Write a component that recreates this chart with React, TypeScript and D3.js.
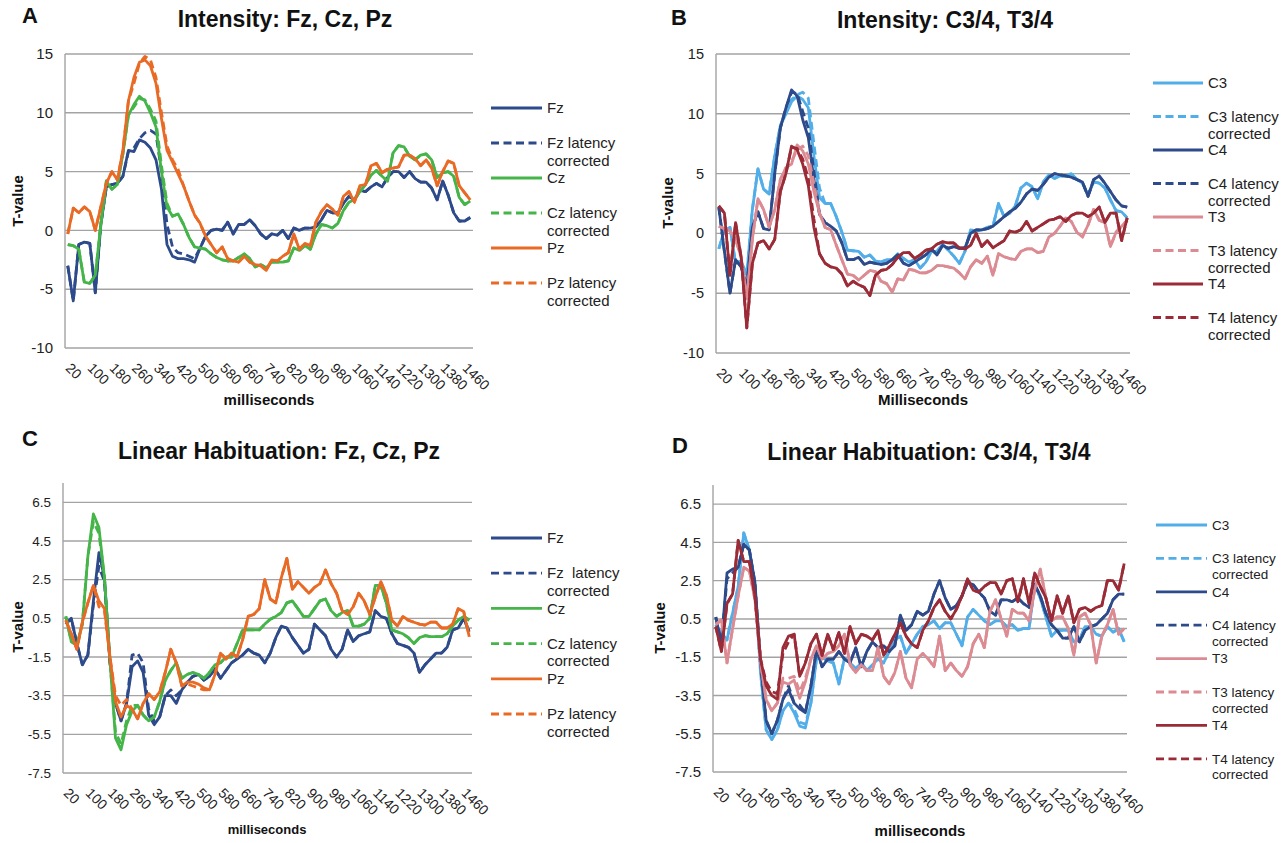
import * as d3 from "d3";

// Categories (ms) of the four panels and the labelled ticks
const MS = [
  20, 40, 60, 80, 100, 120, 140, 160, 180, 200, 220, 240, 260, 280, 300, 320, 340, 360, 380, 400,
  420, 440, 460, 480, 500, 520, 540, 560, 580, 600, 620, 640, 660, 680, 700, 720, 740, 760, 780, 800,
  820, 840, 860, 880, 900, 920, 940, 960, 980, 1000, 1020, 1040, 1060, 1080, 1100, 1120, 1140, 1160,
  1180, 1200, 1220, 1240, 1260, 1280, 1300, 1320, 1340, 1360, 1380, 1400, 1420, 1440, 1460, 1480,
];
const MS_TICKS = [20, 100, 180, 260, 340, 420, 500, 580, 660, 740, 820, 900, 980, 1060, 1140, 1220, 1300, 1380, 1460];
const Y_TICKS_INTENSITY = [-10, -5, 0, 5, 10, 15];
const Y_TICKS_HABITUATION = [-7.5, -5.5, -3.5, -1.5, 0.5, 2.5, 4.5, 6.5];

// A - Intensity: Fz, Cz, Pz
const A_FZ = [-3.0, -6.0, -1.2, -1.0, -1.1, -5.3, 0.5, 3.7, 3.9, 4.0, 4.6, 6.8, 6.7, 7.7, 7.5, 7.0, 6.0, 3.5, -1.2, -2.2, -2.4, -2.4, -2.5, -2.7, -1.5, -0.5, 0.0, 0.1, 0.0, 0.7, -0.3, 0.5, 0.5, 0.9, 0.4, -0.3, -0.7, -0.3, -0.4, 0.0, -0.7, 0.2, 0.0, 0.2, 0.2, 0.3, 0.9, 1.7, 1.5, 1.5, 2.3, 2.9, 2.6, 3.4, 3.3, 3.7, 4.0, 3.7, 4.5, 5.0, 5.0, 4.5, 5.0, 4.4, 4.1, 4.1, 3.6, 2.6, 4.2, 3.0, 1.5, 0.8, 0.8, 1.1];
const A_FZ_LC = [-3.0, -6.0, -1.2, -1.0, -1.1, -5.3, 0.5, 3.7, 3.9, 4.0, 4.6, 6.7, 7.0, 7.8, 8.3, 8.5, 8.2, 5.0, 0.5, -1.4, -1.9, -2.0, -2.2, -2.4, -1.5, -0.5, 0.0, 0.1, 0.0, 0.7, -0.3, 0.5, 0.5, 0.9, 0.4, -0.3, -0.7, -0.3, -0.4, 0.0, -0.7, 0.2, 0.0, 0.2, 0.2, 0.3, 0.9, 1.7, 1.5, 1.5, 2.3, 2.9, 2.6, 3.4, 3.3, 3.7, 4.0, 3.7, 4.5, 5.0, 5.0, 4.5, 5.0, 4.4, 4.1, 4.1, 3.6, 2.6, 4.2, 3.0, 1.5, 0.8, 0.8, 1.1];
const A_CZ = [-1.2, -1.3, -1.6, -4.4, -4.5, -3.8, 0.5, 4.2, 3.5, 3.9, 6.5, 9.8, 10.7, 11.4, 11.0, 10.0, 8.8, 5.0, 2.0, 1.2, 1.4, 0.5, -0.6, -1.4, -1.5, -1.6, -2.0, -2.3, -2.5, -2.6, -2.6, -2.3, -2.0, -2.4, -3.1, -2.9, -3.2, -2.7, -2.7, -2.7, -2.6, -1.5, -1.7, -1.3, -1.6, -0.3, 0.5, 0.4, 0.2, 0.6, 1.7, 2.4, 2.6, 3.3, 3.9, 4.7, 5.1, 4.6, 4.2, 6.6, 7.2, 7.1, 6.3, 6.0, 6.4, 6.5, 6.0, 4.5, 4.9, 5.0, 4.6, 2.8, 2.2, 2.5];
const A_CZ_LC = [-1.2, -1.3, -1.6, -4.4, -4.5, -3.8, 0.5, 4.2, 3.5, 3.9, 6.5, 9.8, 10.5, 11.2, 11.1, 10.3, 9.3, 5.5, 2.3, 1.2, 1.4, 0.5, -0.6, -1.4, -1.5, -1.6, -2.0, -2.3, -2.5, -2.6, -2.6, -2.3, -2.0, -2.4, -3.1, -2.9, -3.2, -2.7, -2.7, -2.7, -2.6, -1.5, -1.7, -1.3, -1.6, -0.3, 0.5, 0.4, 0.2, 0.6, 1.7, 2.4, 2.6, 3.3, 3.9, 4.7, 5.1, 4.6, 4.2, 6.6, 7.2, 7.1, 6.3, 6.0, 6.4, 6.5, 6.0, 4.5, 4.9, 5.0, 4.6, 2.8, 2.2, 2.5];
const A_PZ = [-0.3, 1.9, 1.5, 2.0, 1.6, 0.0, 2.0, 4.0, 5.0, 4.3, 6.8, 11.0, 13.0, 14.3, 14.5, 14.0, 12.5, 9.5, 6.8, 5.8, 4.8, 3.8, 2.5, 1.3, 0.6, -0.5, -1.2, -1.9, -1.4, -2.4, -2.6, -2.7, -2.2, -2.7, -2.9, -3.0, -3.4, -2.5, -2.6, -2.2, -1.9, -0.3, -1.6, -1.1, -1.3, 0.7, 1.6, 2.2, 1.8, 1.3, 2.9, 3.3, 2.4, 3.8, 3.9, 5.5, 5.7, 4.9, 5.2, 5.3, 5.4, 6.4, 6.4, 6.1, 5.5, 6.0, 5.3, 3.8, 5.0, 5.9, 5.7, 3.8, 3.2, 2.6];
const A_PZ_LC = [-0.3, 1.9, 1.5, 2.0, 1.6, 0.0, 2.0, 4.0, 5.0, 4.3, 6.8, 11.0, 12.5, 14.2, 14.8, 14.5, 13.0, 10.0, 7.2, 6.0, 5.2, 3.8, 2.5, 1.3, 0.6, -0.5, -1.2, -1.9, -1.4, -2.4, -2.6, -2.7, -2.2, -2.7, -2.9, -3.0, -3.4, -2.5, -2.6, -2.2, -1.9, -0.3, -1.6, -1.1, -1.3, 0.7, 1.6, 2.2, 1.8, 1.3, 2.9, 3.3, 2.4, 3.8, 3.9, 5.5, 5.7, 4.9, 5.2, 5.3, 5.4, 6.4, 6.4, 6.1, 5.5, 6.0, 5.3, 3.8, 5.0, 5.9, 5.7, 3.8, 3.2, 2.6];

// B - Intensity: C3/4, T3/4
const B_C3 = [-1.3, 0.3, 0.5, -2.5, -2.3, -3.5, 2.0, 5.4, 3.7, 3.3, 6.5, 9.0, 10.0, 11.0, 11.5, 11.2, 10.5, 6.5, 3.0, 2.5, 2.5, 1.4, 0.1, -1.4, -1.45, -1.5, -2.0, -1.8, -2.3, -2.4, -2.2, -2.2, -1.7, -2.1, -2.4, -2.2, -2.9, -2.4, -1.5, -1.5, -0.9, -1.4, -1.9, -2.5, -1.5, 0.3, 0.2, 0.3, 0.5, 0.6, 2.5, 1.4, 1.7, 2.3, 3.8, 4.2, 3.9, 2.9, 4.3, 4.9, 4.6, 4.8, 4.8, 5.0, 4.5, 4.2, 3.2, 4.3, 4.2, 3.8, 2.8, 1.9, 1.8, 1.3];
const B_C3_LC = [-1.3, 0.3, 0.5, -2.5, -2.3, -3.5, 2.0, 5.4, 3.7, 3.3, 6.5, 9.0, 10.3, 11.2, 11.6, 11.8, 11.3, 7.5, 3.8, 2.5, 2.5, 1.4, 0.1, -1.4, -1.45, -1.5, -2.0, -1.8, -2.3, -2.4, -2.2, -2.2, -1.7, -2.1, -2.4, -2.2, -2.9, -2.4, -1.5, -1.5, -0.9, -1.4, -1.9, -2.5, -1.5, 0.3, 0.2, 0.3, 0.5, 0.6, 2.5, 1.4, 1.7, 2.3, 3.8, 4.2, 3.9, 2.9, 4.3, 4.9, 4.6, 4.8, 4.8, 5.0, 4.5, 4.2, 3.2, 4.3, 4.2, 3.8, 2.8, 1.9, 1.8, 1.3];
const B_C4 = [2.2, -1.5, -5.0, -2.2, -2.8, -4.5, 0.5, 1.8, 0.4, 0.3, 5.0, 8.8, 10.5, 12.0, 11.5, 9.5, 8.0, 4.5, 1.6, 0.9, 0.6, 0.2, -0.8, -2.2, -2.2, -2.0, -2.6, -2.4, -2.5, -2.6, -2.5, -2.2, -1.8, -2.5, -2.7, -2.4, -2.1, -1.8, -1.3, -1.8, -1.0, -1.25, -1.1, -1.25, -1.2, 0.0, 0.3, 0.3, 0.4, 0.6, 1.0, 1.4, 1.8, 2.1, 2.6, 3.3, 3.7, 3.6, 4.1, 4.7, 5.0, 4.9, 4.8, 4.7, 4.5, 4.3, 3.1, 4.5, 4.8, 4.2, 3.5, 2.8, 2.3, 2.2];
const B_C4_LC = [2.2, -1.5, -5.0, -2.2, -2.8, -4.5, 0.5, 1.8, 0.4, 0.3, 5.0, 8.8, 10.5, 11.8, 11.7, 10.2, 8.8, 5.2, 1.6, 0.9, 0.6, 0.2, -0.8, -2.2, -2.2, -2.0, -2.6, -2.4, -2.5, -2.6, -2.5, -2.2, -1.8, -2.5, -2.7, -2.4, -2.1, -1.8, -1.3, -1.8, -1.0, -1.25, -1.1, -1.25, -1.2, 0.0, 0.3, 0.3, 0.4, 0.6, 1.0, 1.4, 1.8, 2.1, 2.6, 3.3, 3.7, 3.6, 4.1, 4.7, 5.0, 4.9, 4.8, 4.7, 4.5, 4.3, 3.1, 4.5, 4.8, 4.2, 3.5, 2.8, 2.3, 2.2];
const B_T3 = [0.6, 0.4, 0.2, -0.5, -2.0, -5.5, -0.5, 2.9, 2.0, 0.5, 2.0, 4.5, 5.5, 5.8, 7.4, 6.9, 5.8, 3.5, 1.7, 0.5, 0.3, -1.0, -2.2, -3.4, -3.5, -3.9, -3.5, -3.1, -3.2, -4.0, -4.2, -4.9, -3.8, -3.9, -3.0, -3.1, -3.3, -3.3, -3.1, -2.7, -2.7, -2.8, -2.9, -3.3, -3.8, -2.8, -2.2, -2.5, -1.9, -3.5, -1.7, -1.95, -2.1, -2.2, -1.5, -1.3, -1.3, -1.6, -1.5, -0.3, 0.0, 0.6, 1.3, 1.0, 0.1, -0.3, 0.7, 2.0, 1.1, 0.9, -1.1, 0.1, 0.6, 1.1];
const B_T3_LC = [0.6, 0.4, 0.2, -0.5, -2.0, -5.5, -0.5, 2.9, 2.0, 0.5, 2.0, 4.5, 5.5, 6.0, 7.0, 7.3, 6.5, 4.2, 1.7, 0.5, 0.3, -1.0, -2.2, -3.4, -3.5, -3.9, -3.5, -3.1, -3.2, -4.0, -4.2, -4.9, -3.8, -3.9, -3.0, -3.1, -3.3, -3.3, -3.1, -2.7, -2.7, -2.8, -2.9, -3.3, -3.8, -2.8, -2.2, -2.5, -1.9, -3.5, -1.7, -1.95, -2.1, -2.2, -1.5, -1.3, -1.3, -1.6, -1.5, -0.3, 0.0, 0.6, 1.3, 1.0, 0.1, -0.3, 0.7, 2.0, 1.1, 0.9, -1.1, 0.1, 0.6, 1.1];
const B_T4 = [2.3, 1.7, -3.5, 0.9, -2.0, -7.9, -2.5, -0.8, -0.6, -1.3, -0.5, 3.5, 5.0, 7.3, 7.0, 5.8, 4.0, 0.5, -1.7, -2.5, -2.8, -2.9, -3.4, -4.4, -4.0, -4.3, -4.5, -5.2, -3.5, -3.1, -3.0, -2.6, -2.0, -1.6, -1.6, -2.1, -1.8, -1.4, -1.3, -0.9, -0.7, -0.8, -0.8, -1.2, -1.3, -1.0, 0.0, -1.1, -0.6, -1.2, -0.9, -0.6, 0.2, 0.1, 0.3, 1.0, 0.2, 0.5, 0.8, 1.1, 1.2, 1.4, 1.0, 1.5, 1.7, 1.7, 1.4, 1.7, 2.2, 0.9, 1.7, 1.7, -0.6, 1.3];
const B_T4_LC = [2.3, 1.7, -3.5, 0.9, -2.0, -7.9, -2.5, -0.8, -0.6, -1.3, -0.5, 3.5, 5.0, 7.2, 7.1, 6.2, 4.6, 1.2, -1.7, -2.5, -2.8, -2.9, -3.4, -4.4, -4.0, -4.3, -4.5, -5.2, -3.5, -3.1, -3.0, -2.6, -2.0, -1.6, -1.6, -2.1, -1.8, -1.4, -1.3, -0.9, -0.7, -0.8, -0.8, -1.2, -1.3, -1.0, 0.0, -1.1, -0.6, -1.2, -0.9, -0.6, 0.2, 0.1, 0.3, 1.0, 0.2, 0.5, 0.8, 1.1, 1.2, 1.4, 1.0, 1.5, 1.7, 1.7, 1.4, 1.7, 2.2, 0.9, 1.7, 1.7, -0.6, 1.3];

// C - Linear Habituation: Fz, Cz, Pz
const C_FZ = [0.2, 0.5, -0.8, -1.9, -1.4, 1.4, 3.9, 2.6, -1.8, -3.9, -4.8, -3.9, -2.0, -1.7, -2.3, -4.5, -5.0, -4.6, -3.5, -3.5, -3.9, -3.2, -2.8, -2.5, -2.4, -2.7, -2.5, -2.1, -2.6, -2.2, -1.8, -1.6, -1.4, -1.1, -1.3, -1.4, -1.8, -1.3, -0.5, 0.1, 0.0, -0.5, -0.9, -1.3, -1.1, 0.2, -0.1, -0.4, -1.1, -1.5, -1.1, -0.1, -0.7, -0.4, -0.3, -0.2, 0.9, 0.6, 0.5, -0.3, -0.8, -0.9, -1.0, -1.3, -2.3, -1.9, -1.6, -1.3, -1.3, -1.0, -0.1, 0.0, 0.5, -0.2];
const C_FZ_LC = [0.2, 0.5, -0.8, -1.9, -1.4, 1.2, 3.2, 2.4, -1.8, -3.9, -4.8, -3.9, -1.4, -1.3, -1.8, -4.2, -4.8, -4.6, -3.5, -3.2, -3.5, -3.2, -2.8, -2.5, -2.4, -2.7, -2.5, -2.1, -2.6, -2.2, -1.8, -1.6, -1.4, -1.1, -1.3, -1.4, -1.8, -1.3, -0.5, 0.1, 0.0, -0.5, -0.9, -1.3, -1.1, 0.2, -0.1, -0.4, -1.1, -1.5, -1.1, -0.1, -0.7, -0.4, -0.3, -0.2, 0.9, 0.6, 0.5, -0.3, -0.8, -0.9, -1.0, -1.3, -2.3, -1.9, -1.6, -1.3, -1.3, -1.0, -0.1, 0.0, 0.5, -0.2];
const C_CZ = [0.6, -0.7, -0.9, 0.2, 3.7, 5.9, 5.2, 2.6, -1.7, -5.7, -6.3, -5.0, -4.3, -4.0, -4.5, -4.8, -4.6, -3.8, -2.7, -2.2, -1.8, -2.6, -2.4, -2.3, -2.4, -2.6, -2.3, -1.9, -1.8, -1.5, -1.5, -0.8, -0.1, -0.1, -0.1, -0.1, 0.2, 0.45, 0.6, 0.8, 1.3, 1.4, 1.0, 0.6, 0.6, 1.0, 1.4, 1.5, 0.9, 0.6, 0.8, 0.9, 0.1, 0.1, 0.2, 0.5, 2.2, 2.2, 1.3, -0.1, -0.2, -0.3, -0.5, -0.8, -0.5, -0.4, -0.45, -0.45, -0.45, -0.3, 0.1, 0.4, 0.6, 0.4];
const C_CZ_LC = [0.6, -0.7, -0.9, 0.2, 3.7, 5.5, 4.9, 2.6, -1.7, -5.4, -6.0, -4.8, -4.0, -4.0, -4.5, -4.8, -4.6, -3.8, -2.7, -2.2, -1.8, -2.6, -2.4, -2.3, -2.4, -2.6, -2.3, -1.9, -1.8, -1.5, -1.5, -0.8, -0.1, -0.1, -0.1, -0.1, 0.2, 0.45, 0.6, 0.8, 1.3, 1.4, 1.0, 0.6, 0.6, 1.0, 1.4, 1.5, 0.9, 0.6, 0.8, 0.9, 0.1, 0.1, 0.2, 0.5, 2.2, 2.2, 1.3, -0.1, -0.2, -0.3, -0.5, -0.8, -0.5, -0.4, -0.45, -0.45, -0.45, -0.3, 0.1, 0.4, 0.6, 0.4];
const C_PZ = [0.4, -0.3, -1.1, 0.3, 1.3, 2.2, 1.4, 1.0, -1.5, -3.8, -4.6, -4.0, -4.2, -4.7, -3.9, -3.4, -3.7, -3.3, -2.3, -1.1, -1.8, -3.0, -2.8, -2.8, -2.9, -3.1, -3.2, -2.4, -1.3, -1.6, -1.3, -1.5, -0.6, 0.6, 0.7, 1.0, 2.5, 1.5, 1.3, 2.6, 3.6, 2.0, 2.4, 2.1, 1.8, 2.1, 2.3, 3.0, 2.3, 1.8, 0.9, 0.7, 1.1, 1.8, 1.4, 0.7, 1.6, 2.4, 1.7, 0.4, 0.1, 0.6, 0.4, 0.3, 0.2, 0.15, 0.3, 0.3, 0.0, 0.0, 0.2, 1.0, 0.85, -0.45];
const C_PZ_LC = [0.4, -0.3, -1.1, 0.3, 1.3, 2.2, 1.1, 0.9, -1.5, -3.5, -4.0, -3.7, -4.2, -4.7, -3.9, -3.4, -3.7, -3.3, -2.3, -1.1, -1.8, -3.0, -2.9, -3.0, -3.1, -3.2, -3.2, -2.4, -1.3, -1.6, -1.3, -1.5, -0.6, 0.6, 0.7, 1.0, 2.5, 1.5, 1.3, 2.6, 3.6, 2.0, 2.4, 2.1, 1.8, 2.1, 2.3, 3.0, 2.3, 1.8, 0.9, 0.7, 1.1, 1.8, 1.4, 0.7, 1.6, 2.4, 1.7, 0.4, 0.1, 0.6, 0.4, 0.3, 0.2, 0.15, 0.3, 0.3, 0.0, 0.0, 0.2, 1.0, 0.85, -0.45];

// D - Linear Habituation: C3/4, T3/4
const D_C3 = [0.2, -0.25, -0.6, 0.8, 2.2, 5.0, 4.1, 2.2, -2.3, -5.3, -5.8, -5.3, -4.3, -3.9, -4.4, -5.1, -5.2, -3.9, -1.6, -1.5, -1.7, -1.8, -2.9, -1.55, -1.8, -2.1, -1.8, -2.2, -1.9, -1.6, -1.8, -1.2, -0.6, -0.4, -1.3, -0.8, -0.3, 0.1, 0.2, 0.4, 0.0, 0.3, 0.3, -0.3, -0.9, 0.6, 1.0, 0.7, 0.4, 0.2, 0.4, 0.4, 0.1, 0.2, -0.1, 0.0, 0.0, 2.3, 1.6, 0.6, -0.4, -0.1, -0.1, -0.1, -0.7, -0.6, 0.1, 0.1, -0.3, -0.4, 0.1, -0.2, 0.0, -0.7];
const D_C3_LC = [0.2, -0.25, -0.6, 0.8, 2.2, 5.0, 4.1, 2.2, -2.3, -5.3, -5.8, -5.3, -4.3, -3.9, -4.2, -4.9, -5.0, -3.9, -1.6, -1.5, -1.7, -1.8, -2.9, -1.55, -1.8, -2.1, -1.8, -2.2, -1.9, -1.6, -1.8, -1.2, -0.6, -0.4, -1.3, -0.8, -0.3, 0.1, 0.2, 0.4, 0.0, 0.3, 0.3, -0.3, -0.9, 0.6, 1.0, 0.7, 0.4, 0.2, 0.4, 0.4, 0.1, 0.2, -0.1, 0.0, 0.0, 2.3, 1.6, 0.6, -0.4, -0.1, -0.1, -0.1, -0.7, -0.6, 0.1, 0.1, -0.3, -0.4, 0.1, -0.2, 0.0, -0.7];
const D_C4 = [0.6, -0.8, 2.9, 3.1, 3.2, 4.4, 4.1, 2.4, -1.8, -4.8, -5.5, -4.8, -3.7, -3.2, -3.9, -4.2, -4.4, -3.0, -1.1, -2.0, -1.6, -1.6, -1.2, -1.6, -1.8, -1.0, -2.0, -1.2, -0.7, -1.0, -0.9, -1.2, -0.9, 0.7, -0.1, 0.2, 0.9, 0.7, 0.9, 1.8, 2.5, 1.6, 1.0, 1.2, 1.7, 2.4, 2.3, 1.9, 1.6, 0.9, 0.7, 1.5, 1.5, 1.4, 1.6, 1.3, 1.1, 2.3, 1.7, 0.8, 0.2, -0.1, -0.5, -0.5, 0.1, -0.7, -0.1, 0.1, 0.2, 0.5, 0.8, 1.5, 1.8, 1.8];
const D_C4_LC = [0.6, -0.8, 2.6, 2.9, 3.2, 4.4, 4.1, 2.4, -1.8, -4.8, -5.5, -4.8, -3.7, -3.0, -3.9, -4.0, -4.4, -3.0, -1.1, -2.0, -1.6, -1.6, -1.2, -1.6, -1.8, -1.0, -2.0, -1.2, -0.7, -1.0, -0.9, -1.2, -0.9, 0.7, -0.1, 0.2, 0.9, 0.7, 0.9, 1.8, 2.5, 1.6, 1.0, 1.2, 1.7, 2.4, 2.3, 1.9, 1.6, 0.9, 0.7, 1.5, 1.5, 1.4, 1.6, 1.3, 1.1, 2.3, 1.7, 0.8, 0.2, -0.1, -0.5, -0.5, 0.1, -0.7, -0.1, 0.1, 0.2, 0.5, 0.8, 1.5, 1.8, 1.8];
const D_T3 = [0.2, 0.45, -1.8, 0.0, 1.7, 3.2, 3.0, 1.5, -1.8, -3.7, -4.3, -3.9, -2.8, -2.9, -2.7, -3.65, -2.8, -1.6, -0.9, -1.6, -1.3, -1.2, -0.9, -0.3, -1.9, -2.3, -1.9, -2.2, -2.2, -1.0, -2.5, -2.9, -2.3, -1.2, -2.6, -3.1, -1.6, -1.3, -1.6, -2.0, -0.4, -2.2, -1.8, -2.2, -2.5, -2.0, -0.8, -0.3, -1.0, 0.9, 1.5, 0.5, -0.4, 1.0, 0.8, 0.8, 0.4, 2.0, 3.1, 1.6, 0.4, 0.6, 0.6, 0.0, -1.4, 0.6, 0.8, 0.2, -1.8, -0.4, 0.2, 1.0, -0.3, 0.0];
const D_T3_LC = [0.2, 0.45, -1.8, 0.0, 1.7, 3.2, 3.0, 1.5, -1.8, -3.7, -4.3, -3.9, -2.6, -2.6, -2.5, -3.3, -2.6, -1.6, -0.9, -1.6, -1.3, -1.2, -0.9, -0.3, -1.9, -2.3, -1.9, -2.2, -2.2, -1.0, -2.5, -2.9, -2.3, -1.2, -2.6, -3.1, -1.6, -1.3, -1.6, -2.0, -0.4, -2.2, -1.8, -2.2, -2.5, -2.0, -0.8, -0.3, -1.0, 0.9, 1.5, 0.5, -0.4, 1.0, 0.8, 0.8, 0.4, 2.0, 3.1, 1.6, 0.4, 0.6, 0.6, 0.0, -1.4, 0.6, 0.8, 0.2, -1.8, -0.4, 0.2, 1.0, -0.3, 0.0];
const D_T4 = [0.1, -1.2, 1.3, 1.8, 4.6, 3.5, 3.5, 1.7, -1.6, -3.0, -3.5, -3.7, -1.0, -0.4, -0.3, -2.5, -1.8, -0.8, -0.3, -1.4, -0.3, -1.1, -0.2, -1.3, 0.1, -0.8, -0.3, -0.4, -0.6, -0.1, -1.4, -0.9, -0.3, 0.3, -0.4, -0.8, -1.0, -0.1, 0.4, 1.1, 1.5, 0.9, 0.5, 1.0, 1.7, 2.6, 2.0, 1.9, 2.2, 2.4, 2.4, 1.8, 2.5, 2.6, 1.4, 2.6, 1.3, 2.9, 2.2, 1.6, 0.4, 1.7, 0.8, 1.7, 0.3, 1.0, 1.1, 0.9, 1.1, 1.2, 2.5, 2.5, 2.0, 3.4];
const D_T4_LC = [0.1, -1.2, 1.3, 1.8, 4.6, 3.5, 3.5, 1.7, -1.6, -2.8, -3.3, -3.4, -1.3, -0.7, -0.3, -2.5, -1.8, -0.8, -0.3, -1.4, -0.3, -1.1, -0.2, -1.3, 0.1, -0.8, -0.3, -0.4, -0.6, -0.1, -1.4, -0.9, -0.3, 0.3, -0.4, -0.8, -1.0, -0.1, 0.4, 1.1, 1.5, 0.9, 0.5, 1.0, 1.7, 2.6, 2.0, 1.9, 2.2, 2.4, 2.4, 1.8, 2.5, 2.6, 1.4, 2.6, 1.3, 2.9, 2.2, 1.6, 0.4, 1.7, 0.8, 1.7, 0.3, 1.0, 1.1, 0.9, 1.1, 1.2, 2.5, 2.5, 2.0, 3.4];

const NAVY = "#2d4a8a";
const GREEN = "#45b549";
const ORANGE = "#e96a25";
const LIGHT_BLUE = "#52aee8";
const PINK = "#dc8b93";
const DARK_RED = "#9b2b36";
const GRID = "#a3a3a3";
const FONT = "'Liberation Sans', Arial, Helvetica, sans-serif";

type Series = { label: string[]; values: number[]; color: string; dashed?: boolean };

type Panel = {
  letter: string;
  letterX: number;
  letterY: number;
  title: string;
  titleX: number;
  titleY: number;
  xTitle: string;
  xTitleX: number;
  xTitleY: number;
  xTitleSize: number;
  yTitleX: number;
  yTitleY: number;
  left: number;
  right: number;
  top: number;
  bottom: number;
  yDomain: [number, number];
  yTicks: number[];
  yTickSize: number;
  zeroLine: boolean;
  series: Series[];
  legend: { x1: number; x2: number; tx: number; y0: number; step: number; size: number };
};

const PANELS: Panel[] = [
  {
    letter: "A", letterX: 22, letterY: 23,
    title: "Intensity: Fz, Cz, Pz", titleX: 285, titleY: 27,
    xTitle: "milliseconds", xTitleX: 269, xTitleY: 405, xTitleSize: 15,
    yTitleX: 23, yTitleY: 201,
    left: 65, right: 473, top: 54, bottom: 348,
    yDomain: [-10, 15], yTicks: Y_TICKS_INTENSITY, yTickSize: 15, zeroLine: false,
    series: [
      { label: ["Fz"], values: A_FZ, color: NAVY },
      { label: ["Fz latency", "corrected"], values: A_FZ_LC, color: NAVY, dashed: true },
      { label: ["Cz"], values: A_CZ, color: GREEN },
      { label: ["Cz latency", "corrected"], values: A_CZ_LC, color: GREEN, dashed: true },
      { label: ["Pz"], values: A_PZ, color: ORANGE },
      { label: ["Pz latency", "corrected"], values: A_PZ_LC, color: ORANGE, dashed: true },
    ],
    legend: { x1: 491, x2: 542, tx: 547, y0: 108, step: 35, size: 15 },
  },
  {
    letter: "B", letterX: 671, letterY: 25,
    title: "Intensity: C3/4, T3/4", titleX: 945, titleY: 28,
    xTitle: "Milliseconds", xTitleX: 923, xTitleY: 405, xTitleSize: 15,
    yTitleX: 673, yTitleY: 203,
    left: 716, right: 1130, top: 54, bottom: 353,
    yDomain: [-10, 15], yTicks: Y_TICKS_INTENSITY, yTickSize: 14.5, zeroLine: false,
    series: [
      { label: ["C3"], values: B_C3, color: LIGHT_BLUE },
      { label: ["C3 latency", "corrected"], values: B_C3_LC, color: LIGHT_BLUE, dashed: true },
      { label: ["C4"], values: B_C4, color: NAVY },
      { label: ["C4 latency", "corrected"], values: B_C4_LC, color: NAVY, dashed: true },
      { label: ["T3"], values: B_T3, color: PINK },
      { label: ["T3 latency", "corrected"], values: B_T3_LC, color: PINK, dashed: true },
      { label: ["T4"], values: B_T4, color: DARK_RED },
      { label: ["T4 latency", "corrected"], values: B_T4_LC, color: DARK_RED, dashed: true },
    ],
    legend: { x1: 1153, x2: 1203, tx: 1208, y0: 83, step: 33.5, size: 15 },
  },
  {
    letter: "C", letterX: 22, letterY: 446,
    title: "Linear Habituation: Fz, Cz, Pz", titleX: 279, titleY: 459,
    xTitle: "milliseconds", xTitleX: 267, xTitleY: 834, xTitleSize: 13,
    yTitleX: 23, yTitleY: 627,
    left: 63, right: 472, top: 483, bottom: 773,
    yDomain: [-7.5, 7.5], yTicks: Y_TICKS_HABITUATION, yTickSize: 13.5, zeroLine: true,
    series: [
      { label: ["Fz"], values: C_FZ, color: NAVY },
      { label: ["Fz  latency", "corrected"], values: C_FZ_LC, color: NAVY, dashed: true },
      { label: ["Cz"], values: C_CZ, color: GREEN },
      { label: ["Cz latency", "corrected"], values: C_CZ_LC, color: GREEN, dashed: true },
      { label: ["Pz"], values: C_PZ, color: ORANGE },
      { label: ["Pz latency", "corrected"], values: C_PZ_LC, color: ORANGE, dashed: true },
    ],
    legend: { x1: 491, x2: 542, tx: 547, y0: 538, step: 35.2, size: 15 },
  },
  {
    letter: "D", letterX: 672, letterY: 453,
    title: "Linear Habituation: C3/4, T3/4", titleX: 929, titleY: 460,
    xTitle: "milliseconds", xTitleX: 920, xTitleY: 836, xTitleSize: 15,
    yTitleX: 665, yTitleY: 628,
    left: 713, right: 1127, top: 485, bottom: 772,
    yDomain: [-7.5, 7.5], yTicks: Y_TICKS_HABITUATION, yTickSize: 15, zeroLine: true,
    series: [
      { label: ["C3"], values: D_C3, color: LIGHT_BLUE },
      { label: ["C3 latency", "corrected"], values: D_C3_LC, color: LIGHT_BLUE, dashed: true },
      { label: ["C4"], values: D_C4, color: NAVY },
      { label: ["C4 latency", "corrected"], values: D_C4_LC, color: NAVY, dashed: true },
      { label: ["T3"], values: D_T3, color: PINK },
      { label: ["T3 latency", "corrected"], values: D_T3_LC, color: PINK, dashed: true },
      { label: ["T4"], values: D_T4, color: DARK_RED },
      { label: ["T4 latency", "corrected"], values: D_T4_LC, color: DARK_RED, dashed: true },
    ],
    legend: { x1: 1156, x2: 1207, tx: 1212, y0: 525, step: 33.4, size: 13.5 },
  },
];

const LINE_W = 2.8;
const DASH = "8,4.5";

function ChartPanel({ p }: { p: Panel }) {
  const x = d3.scaleBand<number>().domain(MS).range([p.left, p.right]).padding(0);
  const y = d3.scaleLinear().domain(p.yDomain).range([p.bottom, p.top]);
  const cx = (ms: number) => (x(ms) ?? 0) + x.bandwidth() / 2;
  const line = d3
    .line<number>()
    .x((_, i) => cx(MS[i]))
    .y((v) => y(v));

  return (
    <g fontFamily={FONT}>
      <text x={p.letterX} y={p.letterY} fontSize={22} fontWeight="bold" fill="#111">
        {p.letter}
      </text>
      <text x={p.titleX} y={p.titleY} fontSize={23} fontWeight="bold" textAnchor="middle" fill="#111">
        {p.title}
      </text>

      {/* gridlines */}
      {p.yTicks.map((t) => (
        <line key={t} x1={p.left} x2={p.right} y1={y(t)} y2={y(t)} stroke={GRID} strokeWidth={1.4} />
      ))}
      {p.zeroLine && (
        <line x1={p.left} x2={p.right} y1={y(0)} y2={y(0)} stroke={GRID} strokeWidth={1.4} />
      )}
      <line x1={p.left} x2={p.left} y1={y(p.yDomain[1])} y2={y(p.yDomain[0])} stroke={GRID} strokeWidth={1.4} />

      {/* y tick labels */}
      {p.yTicks.map((t) => (
        <text key={t} x={p.left - 12} y={y(t)} dy="0.35em" textAnchor="end" fontSize={p.yTickSize} fill="#222">
          {t}
        </text>
      ))}

      {/* x tick labels */}
      {MS_TICKS.map((ms) => (
        <text
          key={ms}
          transform={`translate(${cx(ms) - 3},${p.bottom + 21}) rotate(45)`}
          fontSize={14}
          fill="#222"
        >
          {ms}
        </text>
      ))}

      <text x={p.xTitleX} y={p.xTitleY} fontSize={p.xTitleSize} fontWeight="bold" textAnchor="middle" fill="#111">
        {p.xTitle}
      </text>
      <text
        transform={`translate(${p.yTitleX},${p.yTitleY}) rotate(-90)`}
        fontSize={15}
        fontWeight="bold"
        textAnchor="middle"
        fill="#111"
      >
        T-value
      </text>

      {/* series */}
      {p.series.map((s, i) => (
        <path
          key={i}
          d={line(s.values) ?? ""}
          fill="none"
          stroke={s.color}
          strokeWidth={LINE_W}
          strokeDasharray={s.dashed ? DASH : undefined}
          strokeLinejoin="round"
        />
      ))}

      {/* legend */}
      {p.series.map((s, i) => {
        const yy = p.legend.y0 + i * p.legend.step;
        return (
          <g key={i}>
            <line
              x1={p.legend.x1}
              x2={p.legend.x2}
              y1={yy}
              y2={yy}
              stroke={s.color}
              strokeWidth={LINE_W}
              strokeDasharray={s.dashed ? DASH : undefined}
            />
            <text x={p.legend.tx} y={yy} fontSize={p.legend.size} fill="#222" style={{ whiteSpace: "pre" }}>
              {s.label.map((l, j) => (
                <tspan key={j} x={p.legend.tx} dy={j === 0 ? "0.35em" : "1.17em"}>
                  {l}
                </tspan>
              ))}
            </text>
          </g>
        );
      })}
    </g>
  );
}

export default function App() {
  return (
    <svg
      width={1288}
      height={843}
      viewBox="0 0 1288 843"
      style={{ position: "absolute", left: 0, top: 0, background: "#fff" }}
    >
      <rect width={1288} height={843} fill="#fff" />
      {PANELS.map((p) => (
        <ChartPanel key={p.letter} p={p} />
      ))}
    </svg>
  );
}
